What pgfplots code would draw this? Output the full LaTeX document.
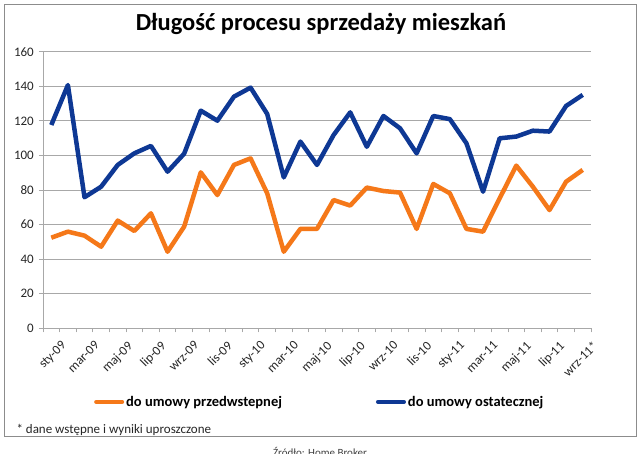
\documentclass[border=0pt]{standalone}
\usepackage{pgfplots}
\pgfplotsset{compat=1.18}
\usepackage{fontspec}
\setmainfont{Carlito}
\definecolor{lorange}{RGB}{245,120,25}
\definecolor{lblue}{RGB}{14,56,148}
\definecolor{gridg}{RGB}{168,168,168}
\definecolor{frameg}{RGB}{140,140,140}
\begin{document}
\begin{tikzpicture}[x=1pt,y=1pt]
\useasboundingbox (0,0) rectangle (640,454);
\fill[white] (0,0) rectangle (640,454);
\draw[frameg, line width=1pt] (4,17) rectangle (636,449);
\node[font=\fontsize{24.5}{28}\selectfont\bfseries] at (321,430) {Długość procesu sprzedaży mieszkań};
\begin{axis}[
  at={(51.3pt,125.7pt)}, anchor=origin,
  scale only axis, width=548pt, height=276.6pt,
  xmin=-0.5, xmax=32.5, ymin=0, ymax=160,
  ytick={0,20,...,160},
  ymajorgrids, grid style={gridg, line width=0.8pt},
  xtick={0,2,...,32},
  xticklabels={sty-09,mar-09,maj-09,lip-09,wrz-09,lis-09,sty-10,mar-10,maj-10,lip-10,wrz-10,lis-10,sty-11,mar-11,maj-11,lip-11,wrz-11*},
  minor xtick={-0.5,0.5,...,32.5},
  axis x line*=bottom, axis y line*=left,
  axis line style={gridg, line width=0.8pt},
  tick align=outside, major tick length=4pt, minor tick length=4pt,
  major x tick style={draw=none},
  minor x tick style={gridg, line width=0.8pt},
  major y tick style={gridg, line width=0.8pt},
  /pgf/number format/assume math mode=true,
  tick label style={font=\fontsize{13}{15}\selectfont, text=black!85},
  xticklabel style={rotate=45, anchor=north east, inner sep=1pt, xshift=2pt, yshift=-11pt},
  yticklabel style={inner sep=2pt, xshift=-3pt},
  legend columns=2,
  legend style={at={(0.093,-0.266)}, anchor=west, draw=none, fill=none,
    font=\fontsize{14.5}{17}\selectfont\bfseries, inner sep=0pt,
    /tikz/every even column/.append style={column sep=92pt}},
  legend image code/.code={\draw[#1, line width=4pt, line cap=round] (0pt,0pt) -- (26pt,0pt);},
  legend cell align=left,
]
\addplot[lorange, line width=4.5pt, line join=round] coordinates {
(0,52.4) (1,55.9) (2,53.6) (3,47.2) (4,62.3) (5,56.3) (6,66.5) (7,44.3) (8,58.8) (9,90.2)
(10,77.1) (11,94.5) (12,98.3) (13,78.1) (14,44.3) (15,57.5) (16,57.5) (17,74.2) (18,71) (19,81.4)
(20,79.4) (21,78.5) (22,57.5) (23,83.5) (24,78.1) (25,57.5) (26,55.9) (27,75.2) (28,94.1) (29,81.9)
(30,68.4) (31,84.8) (32,91.6)};
\addlegendentry{do umowy przedwstepnej}
\addplot[lblue, line width=4.5pt, line join=round] coordinates {
(0,117.6) (1,140.7) (2,75.8) (3,81.9) (4,94.5) (5,101.2) (6,105.5) (7,90.6) (8,101) (9,125.9)
(10,120.1) (11,134) (12,139.2) (13,124) (14,87.3) (15,108) (16,94.5) (17,111.8) (18,124.9) (19,105)
(20,122.8) (21,115.7) (22,101.2) (23,122.8) (24,121) (25,107) (26,79) (27,109.9) (28,110.9) (29,114.3)
(30,113.8) (31,128.6) (32,135)};
\addlegendentry{do umowy ostatecznej}
\end{axis}
\node[anchor=west, font=\fontsize{13}{15}\selectfont, text=black!85] at (13,24) {* dane wstępne i wyniki uproszczone};
\node[anchor=base, font=\fontsize{11}{13}\selectfont, text=black!75] at (320,-3) {Źródło: Home Broker};
\end{tikzpicture}
\end{document}
